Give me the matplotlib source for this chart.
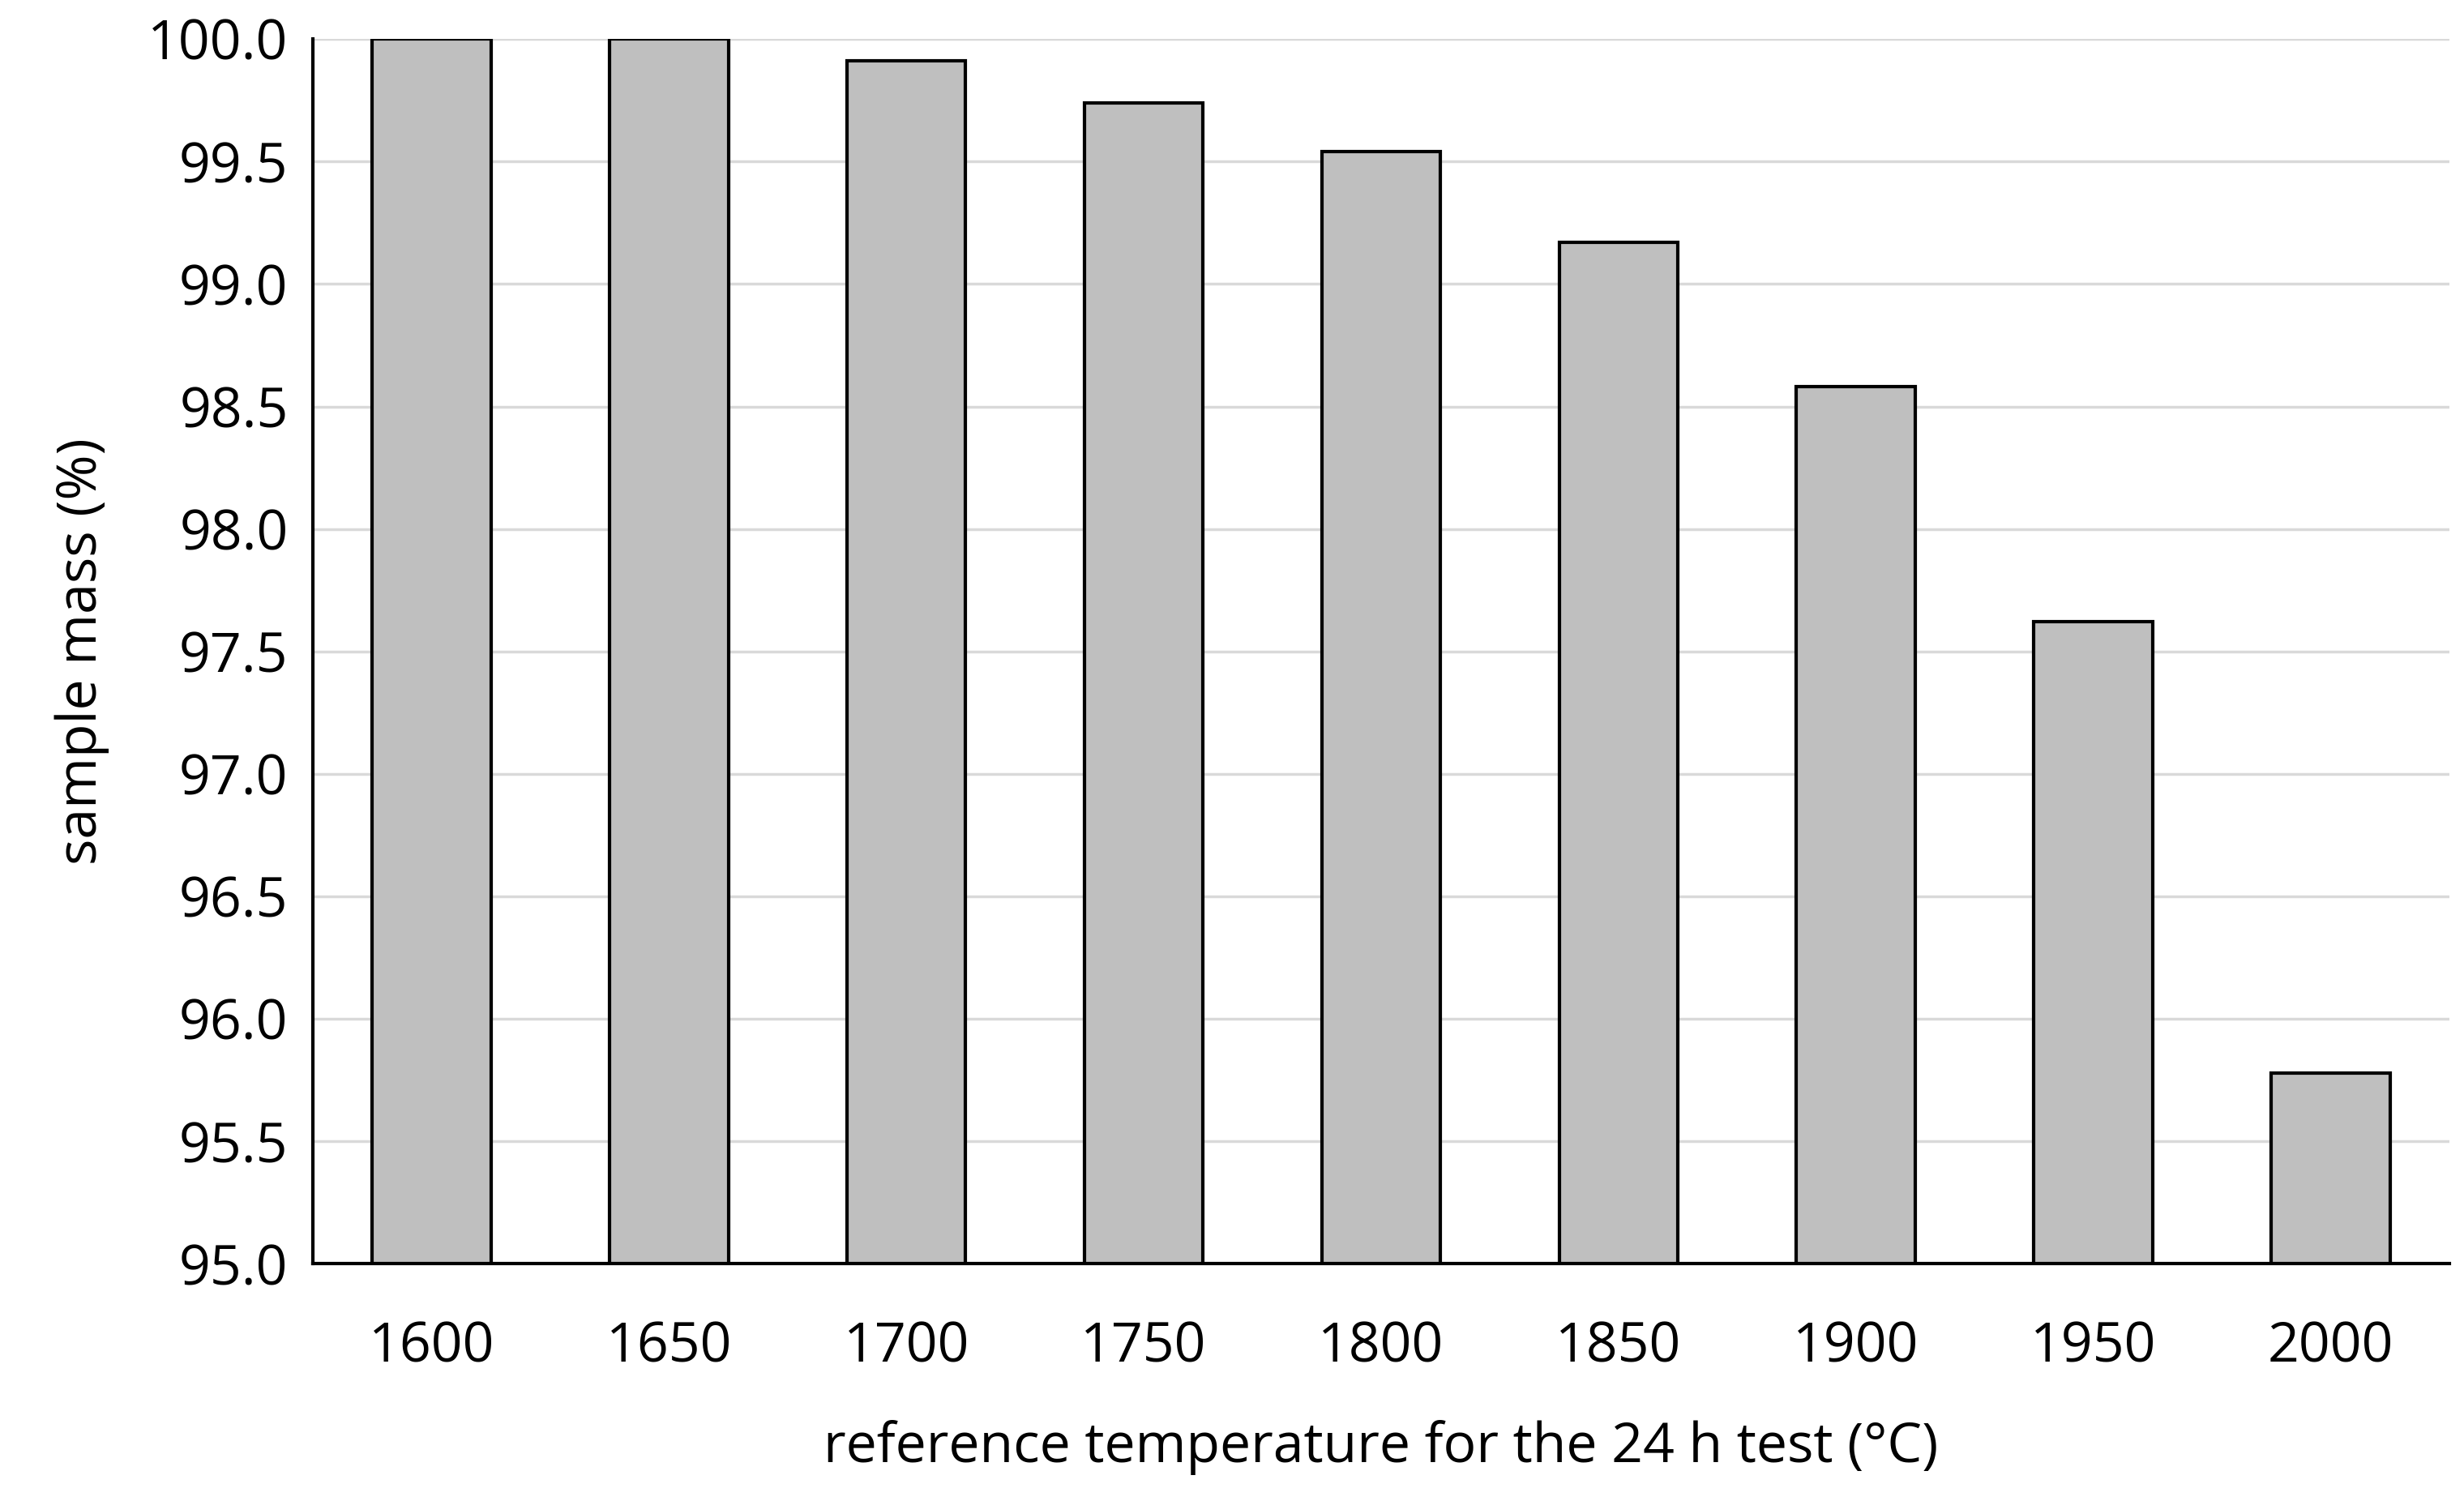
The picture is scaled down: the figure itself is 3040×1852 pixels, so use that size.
import matplotlib
matplotlib.use("Agg")
import matplotlib.pyplot as plt

temperatures = ["1600", "1650", "1700", "1750", "1800", "1850", "1900", "1950", "2000"]
sample_mass = [100.0, 100.0, 99.91, 99.74, 99.54, 99.17, 98.58, 97.62, 95.78]
y_ticks = [95.0, 95.5, 96.0, 96.5, 97.0, 97.5, 98.0, 98.5, 99.0, 99.5, 100.0]

plt.rcParams['font.family'] = ['Open Sans', 'DejaVu Sans']

fig = plt.figure(figsize=(30.4, 18.52), dpi=100)
ax = fig.add_axes([0.127, 0.158, 0.867, 0.816])

ax.bar(range(len(temperatures)), sample_mass, width=0.5, bottom=0,
       color='#bfbfbf', edgecolor='black', linewidth=3, zorder=3)
ax.set_ylim(95.0, 100.0)
ax.set_xlim(-0.5, len(temperatures) - 0.5)
ax.set_yticks(y_ticks)
ax.set_yticklabels([f'{v:.1f}' for v in y_ticks])
ax.set_xticks(range(len(temperatures)))
ax.set_xticklabels(temperatures)
ax.grid(axis='y', color='#d9d9d9', linewidth=2.5, zorder=0)
ax.tick_params(length=0, labelsize=49, pad=50)
ax.tick_params(axis='y', pad=22)

for side in ['top', 'right']:
    ax.spines[side].set_visible(False)
for side in ['left', 'bottom']:
    ax.spines[side].set_linewidth(3)
    ax.spines[side].set_zorder(4)

ax.set_xlabel('reference temperature for the 24 h test (°C)', fontsize=49, labelpad=40)
ax.set_ylabel('sample mass (%)', fontsize=49, labelpad=34)

fig.savefig('out.png', dpi=100)
